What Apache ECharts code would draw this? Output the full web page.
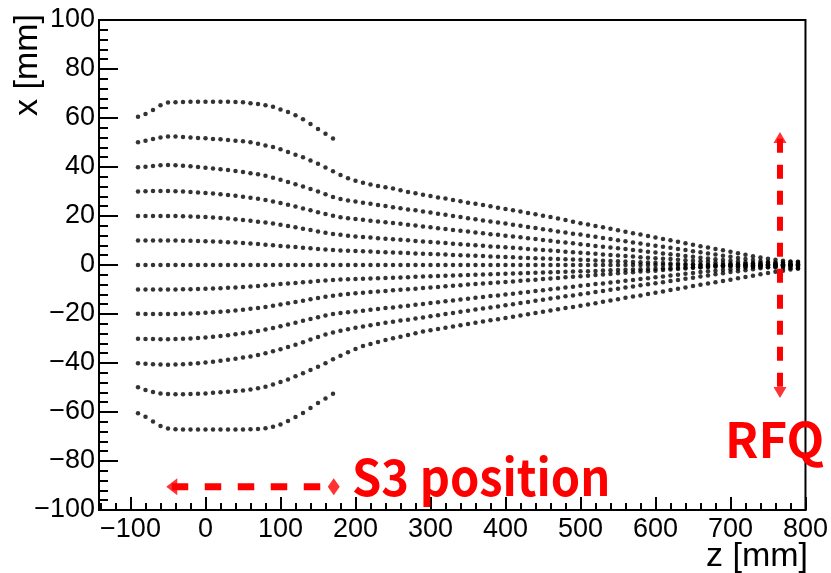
<!DOCTYPE html>
<html><head><meta charset="utf-8">
<script src="https://cdn.jsdelivr.net/npm/echarts@6/dist/echarts.min.js"></script>
<style>html,body{margin:0;padding:0;background:#fff}#c{width:831px;height:573px}</style>
</head><body><div id="c"></div>
<script>
// z positions of the tracked points (mm)
const zGrid = [
 -90,-80,-70,-60,-50,-40,-30,-20,-10,0,
 10,20,30,40,50,60,70,80,90,100,
 110,120,130,140,150,160,170,180,190,200,
 210,220,230,240,250,260,270,280,290,300,
 310,320,330,340,350,360,370,380,390,400,
 410,420,430,440,450,460,470,480,490,500,
 510,520,530,540,550,560,570,580,590,600,
 610,620,630,640,650,660,670,680,690,700,
 710,720,730,740,750,760,770,780,790];
const zShort = [
 -90,-80,-70,-60,-50,-40,-30,-20,-10,0,
 10,20,30,40,50,60,70,80,90,100,
 110,120,130,140,150,160,170];

// x (mm) of each trajectory
const xP60 = [60.5,61.6,63.3,65.2,66.3,66.4,66.5,66.6,66.6,66.6,
 66.6,66.6,66.6,66.5,66.4,66.0,65.7,65.2,64.6,63.5,
 62.4,61.1,59.5,57.6,55.5,53.6,51.6];
const xM60 = [-60.5,-61.9,-63.9,-65.7,-66.7,-67.0,-67.1,-67.1,-67.1,-67.1,
 -67.1,-67.1,-67.1,-67.1,-67.1,-67.0,-66.9,-66.6,-66.0,-65.1,
 -63.7,-62.0,-60.4,-58.4,-56.3,-54.5,-52.5];
const xP50 = [50.1,50.7,51.4,52.0,52.4,52.5,52.2,52.0,51.8,51.7,
 51.4,51.3,51.0,50.7,50.5,50.1,49.5,48.8,48.2,47.2,
 46.1,45.0,44.0,42.7,41.3,39.8,38.3,36.7,35.4,34.4,
 33.6,32.9,32.2,31.7,31.2,30.5,29.8,29.3,28.7,28.2,
 27.6,27.1,26.5,26.0,25.4,25.0,24.5,24.0,23.4,22.9,
 22.3,21.8,21.2,20.7,20.1,19.6,19.0,18.4,17.7,17.0,
 16.5,15.9,15.4,14.8,14.2,13.6,13.0,12.4,11.8,11.2,
 10.6,10.1,9.5,8.9,8.3,7.7,7.1,6.5,6.0,5.4,
 4.8,4.2,3.6,3.1,2.6,2.1,1.7,1.4,1.2];
const xM50 = [-49.9,-51.0,-51.8,-52.4,-52.7,-52.8,-52.8,-52.7,-52.6,-52.4,
 -52.1,-51.9,-51.7,-51.4,-51.2,-50.8,-50.3,-49.7,-48.8,-47.8,
 -46.7,-45.4,-44.2,-42.9,-41.5,-40.1,-38.5,-37.0,-35.6,-34.3,
 -33.1,-32.2,-31.4,-30.6,-29.9,-29.3,-28.6,-27.9,-27.1,-26.6,
 -26.1,-25.6,-25.1,-24.6,-24.1,-23.6,-23.1,-22.6,-22.1,-21.6,
 -21.1,-20.6,-20.1,-19.6,-19.1,-18.6,-18.1,-17.6,-17.1,-16.6,
 -16.1,-15.6,-15.0,-14.5,-14.0,-13.4,-12.9,-12.4,-11.8,-11.3,
 -10.8,-10.2,-9.7,-9.2,-8.6,-8.1,-7.6,-7.0,-6.5,-6.0,
 -5.4,-4.9,-4.4,-3.8,-3.3,-2.8,-2.3,-1.8,-1.4];
const xP40 = [39.9,40.1,40.4,40.7,40.8,40.7,40.5,40.3,40.0,39.7,
 39.4,39.1,38.8,38.4,38.0,37.5,37.0,36.4,35.6,34.8,
 33.9,33.0,32.0,31.0,30.0,28.9,27.8,26.9,26.3,25.9,
 25.4,25.0,24.5,24.1,23.6,23.2,22.7,22.3,21.8,21.4,
 20.9,20.5,20.0,19.6,19.1,18.7,18.2,17.8,17.3,16.9,
 16.4,16.0,15.5,15.1,14.6,14.2,13.7,13.3,12.8,12.4,
 11.9,11.5,11.0,10.6,10.1,9.7,9.2,8.8,8.3,7.9,
 7.4,7.0,6.5,6.1,5.6,5.2,4.7,4.3,3.8,3.4,
 2.9,2.5,2.0,1.6,1.2,0.8,0.4,0.1,-0.2];
const xM40 = [-40.1,-40.3,-40.5,-40.6,-40.7,-40.6,-40.5,-40.3,-40.1,-39.8,
 -39.5,-39.1,-38.7,-38.3,-37.8,-37.3,-36.7,-36.0,-35.2,-34.4,
 -33.5,-32.5,-31.5,-30.4,-29.4,-28.4,-27.5,-26.8,-26.2,-25.6,
 -25.1,-24.6,-24.1,-23.6,-23.2,-22.7,-22.3,-21.8,-21.4,-20.9,
 -20.5,-20.0,-19.6,-19.1,-18.7,-18.2,-17.8,-17.3,-16.9,-16.4,
 -16.0,-15.5,-15.1,-14.6,-14.2,-13.7,-13.3,-12.8,-12.4,-11.9,
 -11.5,-11.0,-10.6,-10.1,-9.7,-9.2,-8.8,-8.3,-7.9,-7.4,
 -7.0,-6.5,-6.1,-5.6,-5.2,-4.7,-4.3,-3.8,-3.4,-2.9,
 -2.5,-2.1,-1.7,-1.3,-0.9,-0.6,-0.3,0.0,0.2];
const xP30 = [30.0,30.1,30.2,30.2,30.2,30.1,30.0,29.8,29.6,29.4,
 29.2,28.9,28.6,28.3,27.9,27.5,27.0,26.5,25.9,25.3,
 24.6,23.9,23.1,22.3,21.5,20.8,20.1,19.5,19.1,18.8,
 18.5,18.1,17.8,17.4,17.1,16.8,16.4,16.1,15.7,15.4,
 15.0,14.7,14.3,14.0,13.7,13.3,13.0,12.6,12.3,11.9,
 11.6,11.3,10.9,10.6,10.2,9.9,9.5,9.2,8.9,8.5,
 8.2,7.8,7.5,7.1,6.8,6.5,6.1,5.8,5.4,5.1,
 4.7,4.4,4.1,3.7,3.4,3.0,2.7,2.3,2.0,1.7,
 1.4,1.1,0.8,0.5,0.3,0.1,-0.1,-0.3,-0.4];
const xM30 = [-30.1,-30.2,-30.2,-30.3,-30.3,-30.2,-30.1,-30.0,-29.8,-29.6,
 -29.3,-29.0,-28.7,-28.3,-27.9,-27.4,-26.9,-26.3,-25.7,-25.0,
 -24.3,-23.6,-22.8,-22.0,-21.3,-20.6,-20.0,-19.6,-19.3,-19.0,
 -18.7,-18.3,-18.0,-17.6,-17.3,-16.9,-16.6,-16.2,-15.9,-15.5,
 -15.2,-14.8,-14.5,-14.1,-13.8,-13.4,-13.1,-12.7,-12.4,-12.0,
 -11.7,-11.3,-11.0,-10.6,-10.3,-9.9,-9.6,-9.2,-8.9,-8.5,
 -8.2,-7.8,-7.5,-7.1,-6.8,-6.4,-6.1,-5.7,-5.4,-5.0,
 -4.7,-4.3,-4.0,-3.6,-3.3,-2.9,-2.6,-2.3,-2.0,-1.7,
 -1.4,-1.1,-0.8,-0.5,-0.3,-0.1,0.1,0.3,0.4];
const xP20 = [20.0,20.0,20.0,20.0,20.0,20.0,19.9,19.8,19.7,19.6,
 19.4,19.2,19.0,18.7,18.4,18.1,17.7,17.3,16.9,16.4,
 15.9,15.4,14.8,14.3,13.7,13.2,12.7,12.3,11.9,11.6,
 11.4,11.2,10.9,10.7,10.5,10.3,10.1,9.8,9.6,9.4,
 9.2,9.0,8.7,8.5,8.3,8.1,7.9,7.6,7.4,7.2,
 7.0,6.8,6.5,6.3,6.1,5.9,5.7,5.4,5.2,5.0,
 4.8,4.6,4.3,4.1,3.9,3.7,3.5,3.2,3.0,2.8,
 2.6,2.4,2.1,1.9,1.7,1.5,1.3,1.0,0.8,0.6,
 0.4,0.2,0.0,-0.2,-0.3,-0.5,-0.6,-0.7,-0.8];
const xM20 = [-19.9,-20.0,-20.0,-20.0,-20.0,-20.0,-19.9,-19.8,-19.7,-19.5,
 -19.3,-19.1,-18.9,-18.6,-18.3,-17.9,-17.5,-17.1,-16.6,-16.1,
 -15.6,-15.1,-14.6,-14.0,-13.5,-13.0,-12.5,-12.1,-11.8,-11.5,
 -11.3,-11.0,-10.8,-10.6,-10.3,-10.1,-9.9,-9.7,-9.4,-9.2,
 -9.0,-8.7,-8.5,-8.3,-8.0,-7.8,-7.6,-7.3,-7.1,-6.9,
 -6.7,-6.4,-6.2,-6.0,-5.7,-5.5,-5.3,-5.0,-4.8,-4.6,
 -4.4,-4.1,-3.9,-3.7,-3.4,-3.2,-3.0,-2.7,-2.5,-2.3,
 -2.0,-1.8,-1.6,-1.4,-1.1,-0.9,-0.7,-0.4,-0.2,0.0,
 0.2,0.4,0.6,0.8,0.9,1.0,1.1,1.2,1.3];
const xP10 = [10.0,10.0,10.0,10.0,10.0,10.0,9.9,9.9,9.8,9.7,
 9.6,9.5,9.3,9.2,9.0,8.8,8.6,8.3,8.1,7.8,
 7.6,7.3,7.0,6.8,6.5,6.3,6.1,5.9,5.8,5.7,
 5.6,5.5,5.3,5.2,5.1,5.0,4.9,4.7,4.6,4.5,
 4.4,4.3,4.1,4.0,3.9,3.8,3.7,3.5,3.4,3.3,
 3.2,3.0,2.9,2.8,2.7,2.6,2.4,2.3,2.2,2.1,
 2.0,1.8,1.7,1.6,1.5,1.4,1.2,1.1,1.0,0.9,
 0.8,0.6,0.5,0.4,0.3,0.1,0.0,-0.1,-0.2,-0.3,
 -0.5,-0.6,-0.7,-0.8,-0.9,-1.0,-1.2,-1.3,-1.4];
const xM10 = [-10.0,-10.0,-10.0,-10.0,-10.0,-10.0,-9.9,-9.9,-9.8,-9.7,
 -9.6,-9.5,-9.3,-9.2,-9.0,-8.8,-8.6,-8.3,-8.1,-7.8,
 -7.6,-7.3,-7.0,-6.8,-6.5,-6.3,-6.1,-5.9,-5.8,-5.7,
 -5.6,-5.5,-5.4,-5.3,-5.2,-5.1,-5.0,-4.8,-4.7,-4.6,
 -4.5,-4.4,-4.3,-4.2,-4.1,-4.0,-3.9,-3.8,-3.7,-3.6,
 -3.5,-3.4,-3.3,-3.2,-3.1,-3.0,-2.9,-2.8,-2.7,-2.6,
 -2.5,-2.4,-2.2,-2.1,-2.0,-1.9,-1.8,-1.7,-1.6,-1.5,
 -1.4,-1.3,-1.2,-1.1,-1.0,-0.9,-0.8,-0.7,-0.6,-0.5,
 -0.4,-0.3,-0.2,-0.1,0.0,0.1,0.2,0.3,0.4];
const x00 = [0,0,0,0,0,0,0,0,0,0, 0,0,0,0,0,0,0,0,0,0, 0,0,0,0,0,0,0,0,0,0,
 0,0,0,0,0,0,0,0,0,0, 0,0,0,0,0,0,0,0,0,0, 0,0,0,0,0,0,0,0,0,0,
 0,0,0,0,0,0,0,0,0,0, 0,0,0,0,0,0,0,0,0,0, 0,0,0,0,0,0,0,0,0];

// axis ticks
const xMajorTicks = [-100,0,100,200,300,400,500,600,700,800];
const xMinorTicks = [-140,-120,-80,-60,-40,-20,20,40,60,80,120,140,160,180,220,240,260,280,
 320,340,360,380,420,440,460,480,520,540,560,580,620,640,660,680,720,740,760,780];

// annotations (data coordinates, mm)
const s3LineZ = [-45, 153];
const s3LineX = [-90.5, -90.5];
const s3HeadZ = [-45];
const s3TailZ = [171];
const rfqLineZ = [766, 766];
const rfqLineX = [51.5, -51.5];
const rfqHeadX = [52.0, -52.0];

const trajectories = [
  [zShort, xP60], [zGrid, xP50], [zGrid, xP40], [zGrid, xP30], [zGrid, xP20], [zGrid, xP10],
  [zGrid, x00], [zGrid, xM10], [zGrid, xM20], [zGrid, xM30], [zGrid, xM40], [zGrid, xM50], [zShort, xM60]
];

const RED = '#ff0000';
const fmt = v => String(v).replace('-', '\u2212');
const labelFont = {fontFamily: 'Liberation Sans', fontSize: 27, color: '#000'};

const series = trajectories.map(([zs, xs]) => ({
  type: 'scatter', xAxisIndex: 0, yAxisIndex: 0, silent: true, z: 2,
  symbol: 'circle', symbolSize: 4.5, itemStyle: {color: '#000'},
  data: zs.map((z, i) => [z, xs[i]])
}));

series.push({
  type: 'line', silent: true, z: 5, symbol: 'none',
  lineStyle: {color: RED, width: 7, type: [16.5, 16.5], cap: 'butt'},
  data: s3LineZ.map((z, i) => [z, s3LineX[i]])
});
series.push({
  type: 'scatter', silent: true, z: 5, symbol: 'triangle', symbolSize: [17, 11], symbolRotate: 90,
  itemStyle: {color: RED}, data: [[s3HeadZ[0], s3LineX[0]]]
});
series.push({
  type: 'scatter', silent: true, z: 5, symbol: 'diamond', symbolSize: [12, 17],
  itemStyle: {color: RED}, data: [[s3TailZ[0], s3LineX[0]]]
});
series.push({
  type: 'line', silent: true, z: 5, symbol: 'none',
  lineStyle: {color: RED, width: 6, type: [14, 12], cap: 'butt'},
  data: rfqLineZ.map((z, i) => [z, rfqLineX[i]])
});
series.push({
  type: 'scatter', silent: true, z: 5, symbol: 'triangle', symbolSize: [13, 11],
  itemStyle: {color: RED},
  data: [{value: [rfqLineZ[0], rfqHeadX[0]], symbolRotate: 0},
         {value: [rfqLineZ[1], rfqHeadX[1]], symbolRotate: 180}]
});

const chart = echarts.init(document.getElementById('c'), null, {renderer: 'canvas'});
chart.setOption({
  animation: false,
  backgroundColor: '#fff',
  grid: {left: 99, right: 23, top: 20, bottom: 63, show: true, borderColor: '#000', borderWidth: 2, backgroundColor: 'transparent'},
  xAxis: [{
    type: 'value', min: -142, max: 800, position: 'bottom',
    axisLine: {show: true, onZero: false, lineStyle: {color: '#000', width: 2}},
    axisTick: {show: true, inside: true, length: 13, customValues: xMajorTicks, lineStyle: {color: '#000', width: 2}},
    axisLabel: {show: true, customValues: xMajorTicks, formatter: fmt, margin: 6, ...labelFont},
    splitLine: {show: false}
  }, {
    type: 'value', min: -142, max: 800, position: 'bottom', gridIndex: 0,
    axisLine: {show: false, onZero: false},
    axisTick: {show: true, inside: true, length: 7, customValues: xMinorTicks, lineStyle: {color: '#000', width: 2}},
    axisLabel: {show: false},
    splitLine: {show: false}
  }],
  yAxis: {
    type: 'value', min: -100, max: 100, interval: 20,
    axisLine: {show: true, onZero: false, lineStyle: {color: '#000', width: 2}},
    axisTick: {show: true, inside: true, length: 19, lineStyle: {color: '#000', width: 2}},
    minorTick: {show: true, splitNumber: 5, length: 9, lineStyle: {color: '#000', width: 2}},
    axisLabel: {formatter: fmt, margin: 4, ...labelFont},
    splitLine: {show: false}
  },
  graphic: [
    {type: 'text', x: 28, y: 14, rotation: Math.PI / 2,
     style: {text: 'x [mm]', fontFamily: 'Liberation Sans', fontSize: 34, fill: '#000', textAlign: 'right', textVerticalAlign: 'middle'}},
    {type: 'text', x: 808, y: 557,
     style: {text: 'z [mm]', fontFamily: 'Liberation Sans', fontSize: 34, fill: '#000', textAlign: 'right', textVerticalAlign: 'middle'}},
    {type: 'text', x: 352, y: 477, z: 10, scaleX: 0.94,
     style: {text: 'S3 position', fontFamily: 'Noto Sans CJK JP', fontWeight: 'bold', fontSize: 50, fill: RED, textAlign: 'left', textVerticalAlign: 'middle'}},
    {type: 'text', x: 725, y: 439, z: 10,
     style: {text: 'RFQ', fontFamily: 'Noto Sans CJK JP', fontWeight: 'bold', fontSize: 49, fill: RED, textAlign: 'left', textVerticalAlign: 'middle'}}
  ],
  series: series
});
</script></body></html>
